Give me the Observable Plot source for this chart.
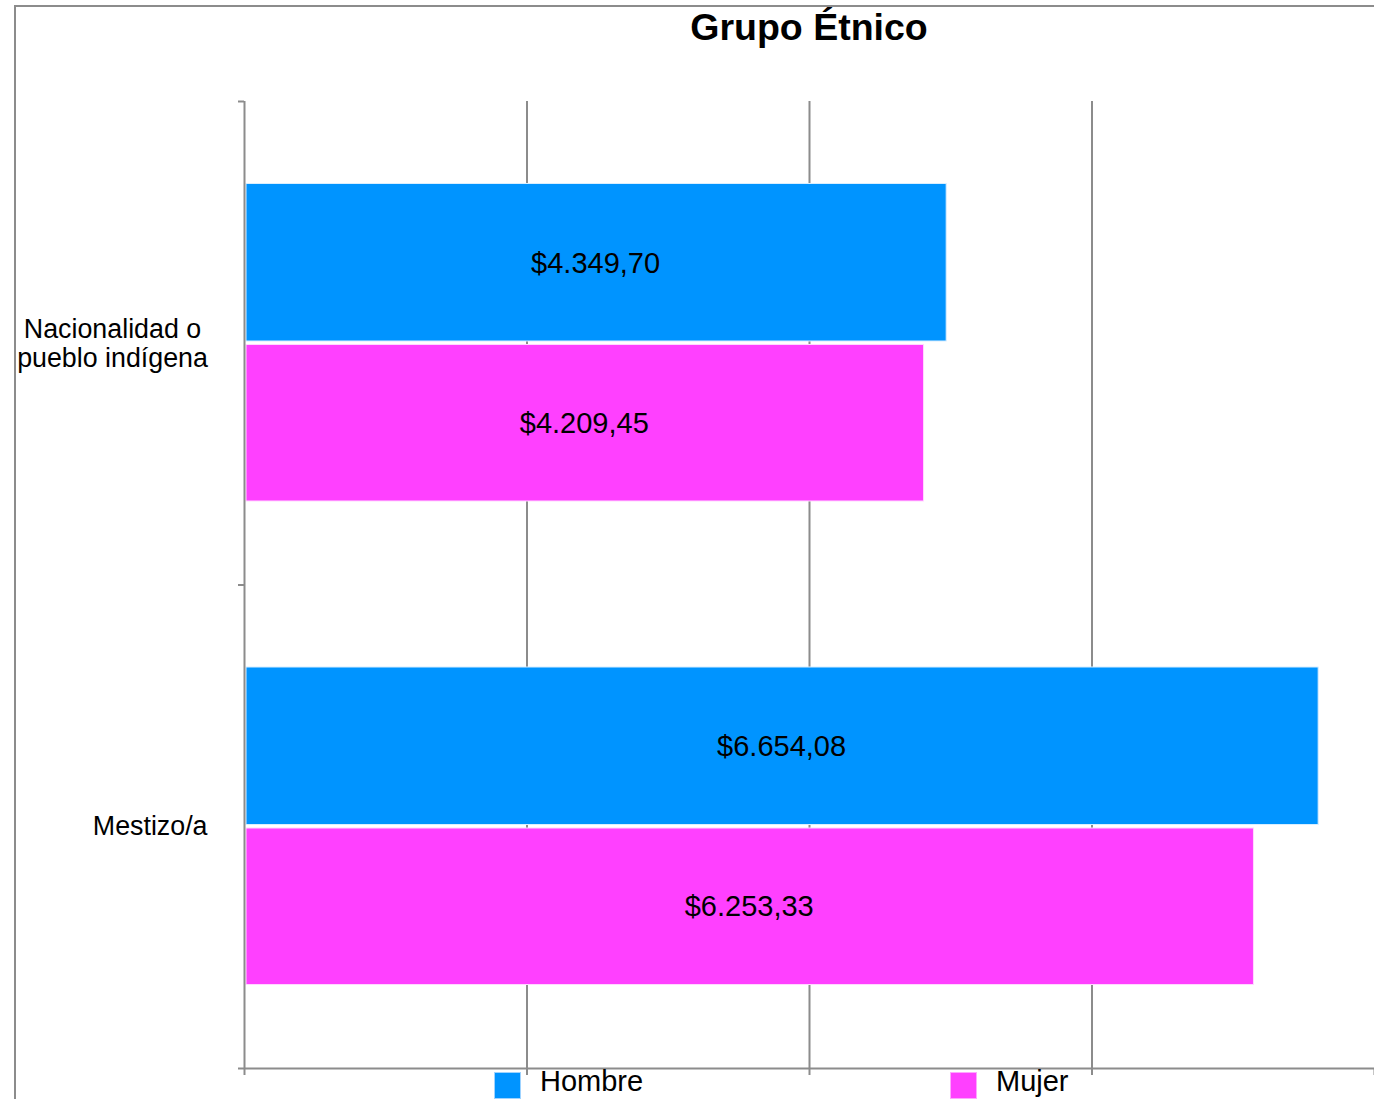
<!DOCTYPE html>
<html>
<head>
<meta charset="utf-8">
<script src="https://cdn.jsdelivr.net/npm/d3@7"></script>
<script src="https://cdn.jsdelivr.net/npm/@observablehq/plot@0.6"></script>
<style>
  html, body { margin: 0; padding: 0; overflow: hidden; background: #fff; }
  #page { position: relative; width: 1374px; height: 1099px; overflow: hidden; background: #fff;
          font-family: "Liberation Sans", Arial, sans-serif; color: #000; }
  #frame { position: absolute; left: 14px; top: 5px; width: 1500px; height: 1300px;
           border-left: 2px solid #8c8c8c; border-top: 2px solid #8c8c8c; pointer-events: none; }
  #title { height: 51px; padding-top: 9px; margin-left: 244px; width: 1130px; text-align: center;
           font-weight: bold; font-size: 37.5px; line-height: 37px; }
  #legend { position: relative; height: 27px; margin-top: -8px; }
  .sw { position: absolute; top: 0; width: 25px; height: 25px; }
  .lt { position: absolute; top: -2px; font-size: 29px; line-height: 22px; white-space: nowrap; }
  svg.plot { overflow: visible; }
</style>
</head>
<body>
<div id="page">
  <div id="title">Grupo Étnico</div>
  <div id="chart"></div>
  <div id="legend"></div>
  <div id="frame"></div>
</div>
<script>
// ---- data ----
const groups = ["Nacionalidad o\npueblo indígena", "Mestizo/a"];
const hombre = [4349.70, 6654.08];
const mujer = [4209.45, 6253.33];
const series = ["Hombre", "Mujer"];
const colors = ["#0094ff", "#ff40ff"];
const xTicks = [0, 1750, 3500, 5250, 7000];
const xDomain = [0, 7000];

const gray = "#8c8c8c";
const font = "Liberation Sans, Arial, sans-serif";

const rows = groups.flatMap((g, i) => [
  {group: g, i, sex: series[0], value: hombre[i]},
  {group: g, i, sex: series[1], value: mujer[i]}
]);
const groupRows = groups.map((g, i) => ({group: g, i}));

const loc = d3.formatLocale({decimal: ",", thousands: ".", grouping: [3], currency: ["$", ""]});
const fmt = loc.format("$,.2f");

const H = rows.filter(d => d.sex === series[0]);
const M = rows.filter(d => d.sex === series[1]);

const plot = Plot.plot({
  width: 1374,
  height: 1020,
  marginTop: 41,
  marginBottom: 12,
  marginLeft: 244,
  marginRight: 0,
  style: {fontFamily: font, overflow: "visible", background: "transparent"},
  x: {domain: xDomain, label: null},
  y: {domain: [groups.length, 0], label: null},
  marks: [
    Plot.gridX(xTicks.slice(1, -1), {stroke: gray, strokeOpacity: 1, strokeWidth: 2}),
    Plot.rect(H, {x1: 0, x2: "value", y1: d => d.i, y2: d => d.i + 1,
      fill: colors[0], insetTop: 82.5, insetBottom: 243.5, insetLeft: 2,
      stroke: "#d8eeff", strokeWidth: 1}),
    Plot.rect(M, {x1: 0, x2: "value", y1: d => d.i, y2: d => d.i + 1,
      fill: colors[1], insetTop: 243.5, insetBottom: 83.5, insetLeft: 2,
      stroke: "#ffd8ff", strokeWidth: 1}),
    Plot.text(H, {x: d => d.value / 2, y: d => d.i + 0.5, text: d => fmt(d.value),
      dy: -80, fontSize: 29, fill: "#000"}),
    Plot.text(M, {x: d => d.value / 2, y: d => d.i + 0.5, text: d => fmt(d.value),
      dy: 80, fontSize: 29, fill: "#000"}),
    Plot.ruleX([0], {stroke: gray, strokeWidth: 2}),
    Plot.ruleY([groups.length], {stroke: gray, strokeWidth: 2}),
    Plot.axisX({ticks: xTicks, tickFormat: () => "", label: null, tickSize: 7, stroke: gray, strokeWidth: 2}),
    Plot.axisY({ticks: d3.range(groups.length + 1), tickFormat: () => "", label: null, tickSize: 6, stroke: gray, strokeWidth: 2}),
    Plot.text(groupRows.filter(d => d.group.includes("\n")), {x: 0, y: d => d.i + 0.5, text: "group",
      textAnchor: "middle", dx: -132, fontSize: 26.8, lineHeight: 1.1, fill: "#000"}),
    Plot.text(groupRows.filter(d => !d.group.includes("\n")), {x: 0, y: d => d.i + 0.5, text: "group",
      textAnchor: "end", dx: -37, fontSize: 26.8, fill: "#000"})
  ]
});
document.getElementById("chart").appendChild(plot);

// legend
const legend = document.getElementById("legend");
const swX = [494, 950];
series.forEach((s, k) => {
  const sw = document.createElement("div");
  sw.className = "sw";
  sw.style.left = swX[k] + "px";
  sw.style.background = colors[k];
  sw.style.border = "1px solid " + (k === 0 ? "#9fd3ff" : "#ffa6ff");
  legend.appendChild(sw);
  const t = document.createElement("div");
  t.className = "lt";
  t.style.left = (swX[k] + 46) + "px";
  t.textContent = s;
  legend.appendChild(t);
});
</script>
</body>
</html>
